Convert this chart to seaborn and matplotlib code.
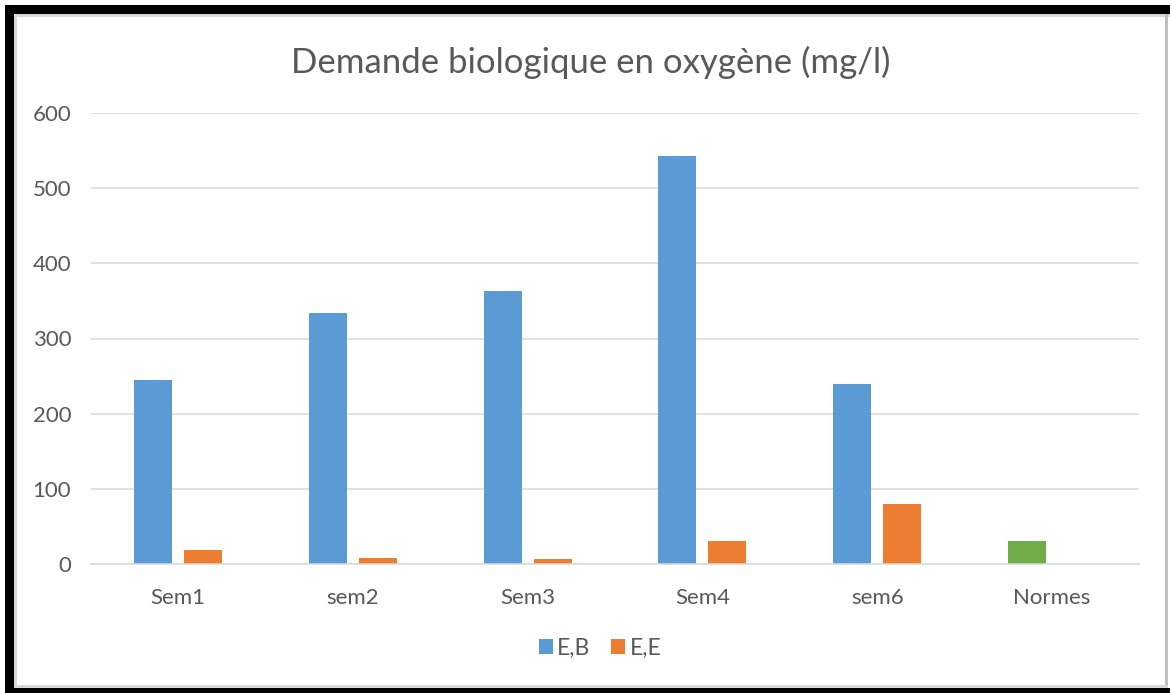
import matplotlib
matplotlib.use("Agg")
import matplotlib.pyplot as plt
from matplotlib.patches import Rectangle
import seaborn as sns
import pandas as pd

categories = ["Sem1", "sem2", "Sem3", "Sem4", "sem6", "Normes"]
eb_values = [245, 334, 363, 543, 239, 30]
ee_values = [19, 8, 7, 30, 80]
series_names = ["E,B", "E,E"]
y_ticks = [0, 100, 200, 300, 400, 500, 600]
title = "Demande biologique en oxygène (mg/l)"

rows = []
for c, v in zip(categories, eb_values):
    rows.append({"cat": c, "serie": series_names[0], "val": v})
for c, v in zip(categories, ee_values):
    rows.append({"cat": c, "serie": series_names[1], "val": v})
df = pd.DataFrame(rows)

sns.set_theme(style="white")
plt.rcParams["font.family"] = ["Lato", "DejaVu Sans"]

text_color = "#595959"
fig = plt.figure(figsize=(11.7, 6.93), dpi=100)
W, H = 1170, 693
ax = fig.add_axes([90.6 / W, (H - 564) / H, (1139.4 - 90.6) / W, (564 - 113) / H])

sns.barplot(data=df, x="cat", y="val", hue="serie", order=categories,
            hue_order=series_names, palette=["#5B9BD5", "#ED7D31"],
            width=0.572, gap=0.24, ax=ax, errorbar=None, saturation=1,
            edgecolor="none")
# Normes bar in green
ax.containers[0][-1].set_facecolor("#70AD47")

ax.set_ylim(0, 600)
ax.set_xlim(-0.5, len(categories) - 0.5)
ax.set_yticks(y_ticks)
ax.set_yticklabels([str(t) for t in y_ticks])
ax.yaxis.grid(True, color="#D9D9D9", linewidth=1.1)
ax.set_axisbelow(True)
for s in ["top", "right", "left"]:
    ax.spines[s].set_visible(False)
ax.spines["bottom"].set_color("#D9D9D9")
ax.spines["bottom"].set_linewidth(1.1)
ax.tick_params(axis="x", length=0, pad=17, labelsize=16, labelcolor=text_color)
ax.tick_params(axis="y", length=0, pad=14, labelsize=16, labelcolor=text_color)
ax.set_xlabel("")
ax.set_ylabel("")

leg = ax.legend(loc="center", bbox_to_anchor=(600 / W, (H - 648) / H),
                bbox_transform=fig.transFigure, ncol=2, frameon=False,
                fontsize=16.5, handlelength=0.6, handleheight=0.6,
                handletextpad=0.2, columnspacing=0.9)
for t in leg.get_texts():
    t.set_color(text_color)

fig.text(0.505, (H - 62) / H, title, ha="center", va="center",
         fontsize=25, color=text_color)

# frame decoration
def rect(x0, y0, x1, y1, color):
    fig.patches.append(Rectangle((x0 / W, (H - y1) / H), (x1 - x0) / W, (y1 - y0) / H,
                                 transform=fig.transFigure, facecolor=color,
                                 edgecolor="none", zorder=10))

rect(14, 14, W, 16.5, "#D9D9D9")
rect(14, 14, 16.5, H, "#D9D9D9")
rect(1165, 14, 1168, 688, "#BFBFBF")
rect(14, 685, 1168, 688, "#D9D9D9")
rect(5, 5, W, 14, "black")
rect(5, 5, 14, H, "black")
rect(5, 688, W, H, "black")

fig.savefig("out.png", dpi=100)
